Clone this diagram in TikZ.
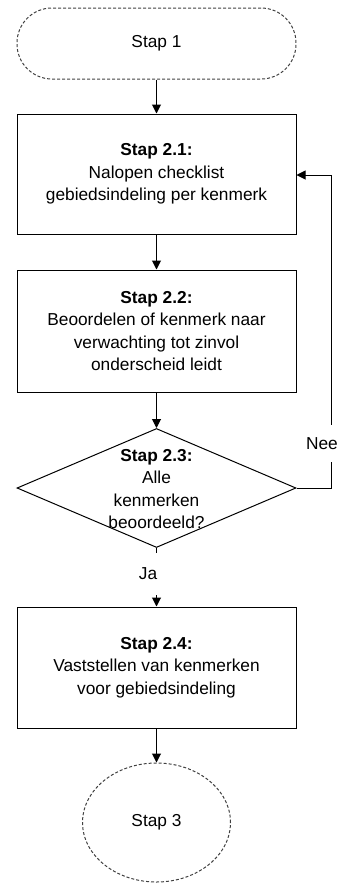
\documentclass[tikz,border=0pt]{standalone}
\usepackage{fontspec}
\setmainfont{Liberation Sans}
\usetikzlibrary{shapes.geometric,arrows.meta}
\begin{document}
\begin{tikzpicture}[x=1pt,y=-1pt,
  every node/.style={font=\fontsize{17.3}{22.5}\selectfont, align=center, inner sep=0pt},
  box/.style={draw, line width=1pt, minimum width=279pt},
  term/.style={draw=black!75, line width=1pt, dash pattern=on 3pt off 2pt},
  arr/.style={line width=1pt, -{Triangle[length=9pt,width=9pt]}},
  lbl/.style={fill=white}
]
\useasboundingbox (0,0) rectangle (345,884);
\node[term, rounded corners=35pt, minimum width=279pt, minimum height=71pt] (s1) at (156.5,43.5) {Stap 1};
\node[box, minimum height=120pt] (s21) at (156.5,174) {\textbf{Stap 2.1:}\\Nalopen checklist\\gebiedsindeling per kenmerk};
\node[box, minimum height=122pt] (s22) at (156.5,331) {\textbf{Stap 2.2:}\\Beoordelen of kenmerk naar\\verwachting tot zinvol\\onderscheid leidt};
\node[draw, diamond, line width=1pt, minimum width=279pt, minimum height=119pt] (s23) at (156.5,488) {};
\node (s23t) at (156.5,489) {\textbf{Stap 2.3:}\\Alle\\kenmerken\\beoordeeld?};
\node[box, minimum height=121pt] (s24) at (156.5,667.5) {\textbf{Stap 2.4:}\\Vaststellen van kenmerken\\voor gebiedsindeling};
\node[term, ellipse, minimum width=148pt, minimum height=119pt] (s3) at (156.5,822.5) {Stap 3};
\coordinate (r1) at (331,488);
\coordinate (r2) at (331,175);
\node[lbl, minimum height=37pt, minimum width=28pt] (nee) at (322,443.5) {Nee};
\node[lbl, minimum height=42pt, minimum width=22pt] (ja) at (148,574) {Ja};

\draw[arr] (s1) -- (s21);
\draw[arr] (s21) -- (s22);
\draw[arr] (s22) -- (s23.north);
\draw[arr] (s23.south) -- (s24);
\draw[arr] (s24) -- (s3);
\draw[arr] (s23.east) -- (r1) -- (r2) -- (s21.east |- r2);
\node[lbl, minimum height=37pt, minimum width=28pt] at (nee) {Nee};
\node[lbl, minimum height=42pt, minimum width=22pt] at (ja) {Ja};
\end{tikzpicture}
\end{document}
